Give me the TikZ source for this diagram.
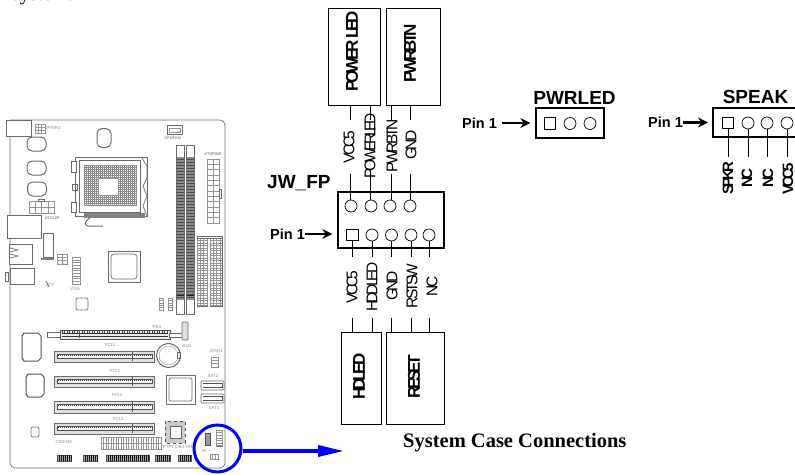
\documentclass[tikz,border=0pt]{standalone}
\usepackage{fontspec}
\setmainfont{Liberation Sans}
\newfontfamily\tightf{Liberation Sans}[LetterSpace=-19]
\newfontfamily\serf{Liberation Serif}
\usetikzlibrary{arrows.meta}
\tikzset{
  pcb/.style={draw=black!58,line width=0.7pt},
  pcbd/.style={draw=black!68,line width=1pt},
  pcbt/.style={draw=black!42,line width=0.4pt},
  tinylab/.style={text=black!45,font=\fontsize{4.5}{5}\selectfont,inner sep=0},
  hdrbox/.style={draw,line width=1.3pt,inner sep=0,fill=none},
  groupbox/.style={draw,line width=0.9pt,inner sep=0},
  pinround/.style={draw,circle,line width=0.7pt,minimum size=12pt,inner sep=0},
  pinsquare/.style={draw,rectangle,line width=0.7pt,minimum size=11.5pt,inner sep=0},
  wire/.style={line width=0.9pt},
  wlabel/.style={rotate=90,inner sep=0,font=\fontsize{15.5}{16}\selectfont\tightf},
  wlabelb/.style={rotate=90,inner sep=0,font=\fontsize{15}{16}\selectfont\tightf\bfseries},
  grplabel/.style={rotate=90,inner sep=0,font=\fontsize{17}{18}\selectfont\tightf\bfseries},
  hdrtitle/.style={inner sep=0,font=\fontsize{19}{20}\selectfont\bfseries},
  pinlabel/.style={inner sep=0,font=\fontsize{14.5}{15}\selectfont\bfseries},
  pinarrow/.style={line width=2.6pt,-{Stealth[length=10pt,width=10pt]}},
  bluelink/.style={draw=blue,line width=3.6pt},
}
\newcommand{\mbslot}[5]{% x1 y1 x2 y2 div
  \draw[pcb,fill=black!12] (#1,#2) rectangle (#3,#4);
  \draw[pcbd,fill=white] (#1+3,#2+3.5) rectangle (#3-2,#4-3.5);
  \pgfmathsetmacro{\qa}{#1+4}\pgfmathsetmacro{\qb}{#1+6}\pgfmathsetmacro{\qc}{#3-3}
  \foreach \q in {\qa,\qb,...,\qc} \draw[black!70,line width=0.7pt] (\q,#2+3) -- (\q,#2+4.5) (\q,#4-4.5) -- (\q,#4-3);
  \draw[pcbd] (#5,#2+1) -- (#5,#4-1);
}
\newcommand{\cellgrid}[6]{% x1 y1 x2 y2 dx dy
  \draw[pcb] (#1,#2) rectangle (#3,#4);
  \pgfmathsetmacro{\qa}{#1+#5}\pgfmathsetmacro{\qb}{#2+#6}
  \foreach \q in {#1,\qa,...,#3} \draw[pcbt] (\q,#2) -- (\q,#4);
  \foreach \q in {#2,\qb,...,#4} \draw[pcbt] (#1,\q) -- (#3,\q);
}
\begin{document}
\begin{tikzpicture}[x=1pt,y=-1pt]
\useasboundingbox (0,0) rectangle (795,474);
\coordinate (ya) at (0,257);
\coordinate (yb) at (0,318);
\coordinate (yc) at (0,157);
% clipped line of text at the top
\node[anchor=base west,inner sep=0,font=\fontsize{20}{20}\selectfont\serf] (topline) at (12,0.5) {system.};
% ------------ motherboard
\draw[pcb,rounded corners=5pt] (10,130) -- (10,468) -- (225,468) -- (225,120) -- (10,120);
\draw[pcb,fill=white] (6,120) rectangle (31,136);
% small top connectors
\cellgrid{35}{124}{45}{133}{3.3}{3}
\node[tinylab] (lfan) at (53,128) {JPWR1};
\draw[pcb] (167,125) rectangle (182,134); \draw[pcbt] (169,128) rectangle (180,132);
\node[tinylab,font=\fontsize{4}{5}\selectfont\bfseries] (lcpufan) at (172.5,138) {CPUFAN};
% capacitors
\foreach \cx/\cy in {36.5/144,36.5/168,37/189}
  \draw[pcb,line width=1pt,rounded corners=5pt] (\cx-9.5,\cy-7) rectangle (\cx+9.5,\cy+7);
\draw[pcb,line width=1pt,rounded corners=5pt] (97,128.5) rectangle (111,147.5);
% ATX12V
\cellgrid{29}{201}{54}{213}{6.25}{6}
\draw[pcb] (38,199) rectangle (44,201);
\node[tinylab,font=\fontsize{4}{5}\selectfont\bfseries] (latx) at (52,218) {ATX12P};
% CPU socket
\draw[pcb] (75,157) rectangle (147,216);
\draw[pcb] (79,160) rectangle (140,212);
\foreach \q in {84,86,...,137} \draw[black!45,line width=0.5pt] (\q,165) -- (\q,205);
\foreach \q in {165,167,...,205} \draw[black!45,line width=0.5pt] (84,\q) -- (137,\q);
\draw[draw=none,fill=white] (98,178) rectangle (118,195);
\draw[pcbt] (98,178) rectangle (118,195);
\draw[pcb,fill=white] (71,161) rectangle (76,172);
\draw[pcb,fill=white] (71,202) rectangle (76,212);
\draw[pcb] (72,184) rectangle (77,190);
\draw[pcb] (142,158) -- (147,166) -- (147,178) -- (143,186) -- (147,196) -- (143,206) -- (147,216);
\draw[draw=none,fill=black!50] (84,213) rectangle (145,218);
\draw[pcb,line width=1pt] (90,218) .. controls (84,222) and (84,225) .. (88,226) -- (103,226);
% DIMMs
\foreach \xa/\xb in {176/184,186/194}{
  \draw[pcb,fill=white] (\xa,145) rectangle (\xb,314);
  \fill[black!45] (\xa+0.5,157) rectangle (\xb-0.5,300);
  \foreach \q in {159,162,...,299} \draw[black!70,line width=0.4pt] (\xa+0.5,\q) -- (\xb-0.5,\q);
  \draw[black!85,line width=1pt] (\xa+0.5,295) -- (\xb-0.5,295);
}
% ATX 24
\cellgrid{207}{159}{219}{223}{6}{5.33}
\draw[pcb] (219,189) rectangle (221,198);
\node[tinylab,font=\fontsize{4}{5}\selectfont\bfseries] (latxp) at (213,154) {ATXPWR};
% IDE
\cellgrid{197}{238}{207}{306}{3.3}{2.5}
\cellgrid{210}{238}{222}{306}{3.3}{2.5}
\draw[pcb] (197,236) rectangle (222,238);
% IO ports
\draw[pcb,fill=white] (7,215) rectangle (41,238);
\draw[pcb,fill=white] (43,233) rectangle (53,257);
\fill[black!50] (41,258) rectangle (54,260);
\draw[pcb,fill=white] (9,244) rectangle (32,264);
\draw[pcb] (10,248) -- (18,250) -- (10,252) (10,254) -- (18,256) -- (10,258);
\draw[pcb,fill=white] (10,268) rectangle (34,284);
\draw[pcb] (5,272) rectangle (8,281);
% small connectors
\cellgrid{57}{254}{67}{264}{5}{3.3}
\cellgrid{72}{257}{80}{284}{8}{2.7}
\node[tinylab] (lvga) at (75,288.5) {VGA};
\node[tinylab] (ljp3) at (50,285) {JP3};
\draw[pcb] (46,281) -- (49,287);
% north bridge
\draw[pcb] (108,251) rectangle (140,282);
\draw[pcb,rounded corners=3pt] (111,254) rectangle (137,279);
\draw[pcb,rounded corners=2pt] (76,298) rectangle (88,310);
% memory jumpers
\cellgrid{159}{298}{163}{310}{4}{2.4}
\cellgrid{168}{298}{172}{310}{4}{2.4}
% PCIe
\draw[pcb,fill=white] (47,332) rectangle (61,337);
\draw[pcbd,fill=black!8] (60,330) rectangle (170,339);
\draw[black!80,line width=1pt] (62,333.5) -- (168,333.5) (62,336) -- (168,336);
\foreach \q in {62,64.5,...,168} \draw[black!75,line width=0.6pt] (\q,331) -- (\q,333);
\draw[pcbd] (79,331) -- (79,338);
\draw[pcb,fill=white] (169,333) rectangle (183,337);
\draw[pcb,rounded corners=1pt,fill=black!12] (182,322) rectangle (188,340);
\node[tinylab] (lpe) at (157,327) {PE1};
% PCI slots
\mbslot{54}{351}{154}{362}{132}
\mbslot{54}{376}{154}{387}{132}
\mbslot{54}{401}{154}{413}{132}
\mbslot{54}{423}{154}{434}{132}
\node[tinylab] (lp1) at (110,345) {PCI1};
\node[tinylab] (lp2) at (115,370.5) {PCI2};
\node[tinylab] (lp3) at (117,395) {PCI3};
\node[tinylab] (lp4) at (118,418.5) {PCI4};
% battery
\draw[pcb,line width=1pt] (168.5,355.5) circle[radius=12];
\draw[pcbt] (168.5,355.5) circle[radius=9.5];
\draw[pcb] (177,352) rectangle (180,358);
\node[tinylab] (lbat) at (187,346) {Bat1};
% ICs
\draw[pcbd,fill=white] (24,333) -- (38,333) -- (41,336) -- (41,358) -- (38,361) -- (24,361) -- (22,358) -- (22,336) -- cycle;
\draw[pcbd,fill=white] (28,374) -- (41,374) -- (44,377) -- (44,394) -- (41,397) -- (28,397) -- (26,394) -- (26,377) -- cycle;
\draw[pcb,rounded corners=2pt] (31,427) rectangle (39,437);
% right side
\cellgrid{211}{357}{218}{367}{7}{3.3}
\node[tinylab] (ljf) at (216,351) {JFAN1};
\foreach \yy in {381,394} {
  \draw[pcb,rounded corners=1pt] (201,\yy) rectangle (224,\yy+9);
  \draw[pcbd] (203,\yy+2.5) -- (222,\yy+2.5) -- (222,\yy+6.5) -- (203,\yy+6.5);
}
\node[tinylab] (ls2) at (213,376) {SAT2};
\node[tinylab] (ls1) at (214,408) {SAT1};
\draw[pcb,line width=1pt] (166,375) rectangle (195,404);
\draw[pcb,rounded corners=2pt] (169,378) rectangle (192,401);
\draw[pcbd,dashed,fill=black!20] (165,421) rectangle (185,443);
\draw[pcb,fill=white] (170,426) rectangle (181,438);
% jumpers in the circle
\draw[pcbd,fill=black!40] (205,433) rectangle (210,445);
\cellgrid{216}{430}{222}{446}{6}{2.6}
\cellgrid{210}{454}{218}{459}{2.6}{5}
\node[tinylab] (ljk) at (204,451) {JK};
% bottom connectors
\cellgrid{101}{437}{161}{449}{2.5}{6}
\node[tinylab] (lptp) at (178,447) {PTP1 DB0 JP1};
\node[tinylab] (lcd) at (64,442) {CD5/DA};
\foreach \xa/\xb/\xc in {57/71/59,83/97/85,106/149/108,155/170/157,178/191/180} {
  \draw[pcbd,fill=black!35] (\xa,455) rectangle (\xb,461);
  \pgfmathsetmacro{\xd}{\xc+2}
  \foreach \q in {\xc,\xd,...,\xb} \draw[black!90,line width=0.5pt] (\q,455) -- (\q,461);
}
% ------------ JW_FP
\node[hdrtitle,anchor=base west] (jwt) at (267,188) {JW\_FP};
\node[hdrbox,minimum width=106pt,minimum height=56pt] (jw) at (391,220) {};
\node[pinround] (a1) at (351,206) {};
\node[pinround] (a2) at (371,206) {};
\node[pinround] (a3) at (390,206) {};
\node[pinround] (a4) at (410,206) {};
\node[pinsquare] (b1) at (352.5,235) {};
\node[pinround] (b2) at (372,235) {};
\node[pinround] (b3) at (391.5,235) {};
\node[pinround] (b4) at (411,235) {};
\node[pinround] (b5) at (429,235) {};
\node[pinlabel,anchor=west] (pina) at (270,234) {Pin 1};
\draw[pinarrow,shorten >=5pt] (pina.east) -- (pina.east -| jw.west);
% upper group boxes
\node[groupbox,minimum width=52pt,minimum height=97pt] (pl) at (354,56.5) {};
\node[groupbox,minimum width=54pt,minimum height=97pt] (pb) at (413,56.5) {};
\node[grplabel] (plt) at (352,51) {POWER LED};
\node[grplabel] (pbt) at (410,53) {PWRBTN};
\node[wlabel] (la1) at (349,147) {VCC5};
\node[wlabel,font=\fontsize{15.5}{16}\selectfont\tightf\addfontfeature{LetterSpace=-22}] (la2) at (370,146) {POWERLED};
\node[wlabel] (la3) at (392,146) {PWRBTN};
\node[wlabel] (la4) at (411,145) {GND};
\foreach \p/\bx/\xx in {a1/pl/350,a2/pl/370,a3/pb/391,a4/pb/410} {
  \coordinate (c\p) at (\xx,120);
  \coordinate (d\p) at (\xx,174);
  \draw[wire] (\bx.south -| c\p) -- (c\p);
  \draw[wire] (d\p) -- (d\p |- \p.north);
}
% lower group boxes
\node[groupbox,minimum width=40pt,minimum height=92pt] (hd) at (361,378) {};
\node[groupbox,minimum width=58pt,minimum height=92pt] (rs) at (415,378) {};
\node[grplabel] (hdt) at (359,376.5) {HDLED};
\node[grplabel] (rst) at (414,377) {RESET};
\node[wlabel] (lb1) at (352,287) {VCC5};
\node[wlabel] (lb2) at (372,287) {HDDLED};
\node[wlabel] (lb3) at (392,286) {GND};
\node[wlabel] (lb4) at (412,286) {RSTSW};
\node[wlabel] (lb5) at (432,286.5) {NC};
\foreach \p/\bx in {b1/hd,b2/hd,b3/rs,b4/rs,b5/rs} {
  \coordinate (e\p) at (\p |- ya);
  \coordinate (f\p) at (\p |- yb);
  \draw[wire] (\p.south) -- (e\p);
  \draw[wire] (f\p) -- (f\p |- \bx.north);
}
% ------------ PWRLED
\node[hdrtitle,anchor=base] (pwt) at (574.5,104) {PWRLED};
\node[hdrbox,minimum width=68pt,minimum height=30pt] (pw) at (570,123) {};
\node[pinsquare] (p1) at (550,123.5) {};
\node[pinround] (p2) at (570,123.5) {};
\node[pinround] (p3) at (590,123.5) {};
\node[pinlabel,anchor=west] (pinb) at (462,123) {Pin 1};
\draw[pinarrow,shorten <=5pt,shorten >=5pt] (pinb.east) -- (pinb.east -| pw.west);
% ------------ SPEAK
\node[hdrtitle,anchor=base] (spt) at (755.5,103) {SPEAK};
\draw[line width=1.3pt] (795,108) -- (713,108) -- (713,137) -- (795,137);
\coordinate (spw) at (713,122.5);
\node[pinsquare] (s1) at (728,123) {};
\node[pinround] (s2) at (748,123) {};
\node[pinround] (s3) at (767,123) {};
\node[pinround] (s4) at (787,123) {};
\node[pinlabel,anchor=west] (pinc) at (648,122.5) {Pin 1};
\draw[pinarrow,shorten >=5pt] (pinc.east) -- (spw);
\foreach \p in {s1,s2,s3,s4} {
  \coordinate (g\p) at (\p |- yc);
  \draw[wire] (\p.south) -- (g\p);
}
\node[wlabelb] (ls1t) at (728,178) {SPKR};
\node[wlabelb] (ls2t) at (747,178) {NC};
\node[wlabelb] (ls3t) at (768,178) {NC};
\node[wlabelb] (ls4t) at (788,178.5) {VCC5};
% ------------ caption and blue pointer
\node[anchor=base west,inner sep=0,font=\fontsize{20.5}{21}\selectfont\serf\bfseries] (cap) at (403,447) {System Case Connections};
\node[draw=blue,line width=3pt,circle,minimum size=47pt,inner sep=0] (ring) at (217.5,448.5) {};
\coordinate (tip) at (344,451);
\draw[bluelink,-{Triangle[length=26pt,width=11pt]}] (ring.east |- tip) -- (tip);
\end{tikzpicture}
\end{document}
